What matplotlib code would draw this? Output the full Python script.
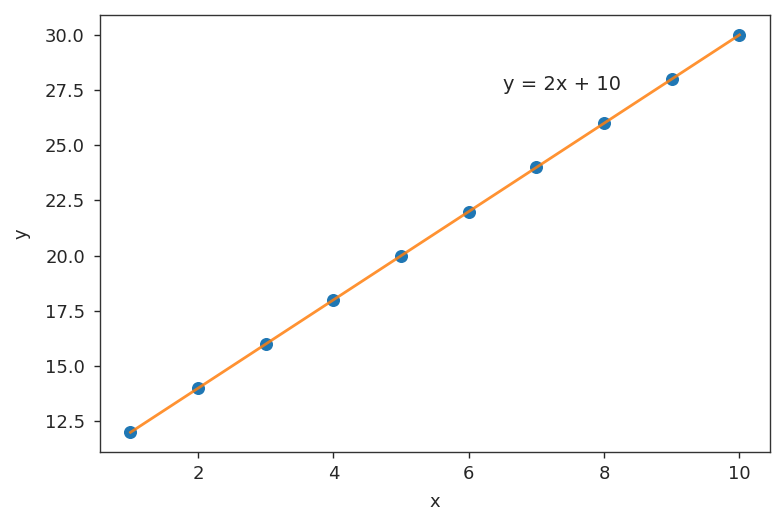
import matplotlib
matplotlib.use("Agg")
import matplotlib.pyplot as plt
import numpy as np

x = [1, 2, 3, 4, 5, 6, 7, 8, 9, 10]
y = [12, 14, 16, 18, 20, 22, 24, 26, 28, 30]
label = "y = 2x + 10"

plt.rcParams['font.size'] = 13
plt.rcParams['text.color'] = '#262626'
plt.rcParams['axes.labelcolor'] = '#262626'
plt.rcParams['xtick.color'] = '#262626'
plt.rcParams['ytick.color'] = '#262626'
plt.rcParams['xtick.major.size'] = 4.5
plt.rcParams['ytick.major.size'] = 4.5
plt.rcParams['xtick.major.width'] = 1.0
plt.rcParams['ytick.major.width'] = 1.0
plt.rcParams['ytick.major.pad'] = 6.4
plt.rcParams['xtick.major.pad'] = 4.5
plt.rcParams['axes.linewidth'] = 1.0
plt.rcParams['axes.edgecolor'] = '#333333'

fig = plt.figure(figsize=(7.84, 5.18), dpi=100)
ax = fig.add_axes([0.1276, 0.127, 0.8544, 0.844])
ax.scatter(x, y, s=70, color='C0', zorder=2)
ax.plot(x, y, color='C1', lw=2.0, alpha=0.85, zorder=3)
ax.text(6.5, 27.5, label, fontsize=14)
ax.set_xlabel('x', labelpad=7.5)
ax.set_ylabel('y', labelpad=10)
fig.savefig('out.png', dpi=100)
